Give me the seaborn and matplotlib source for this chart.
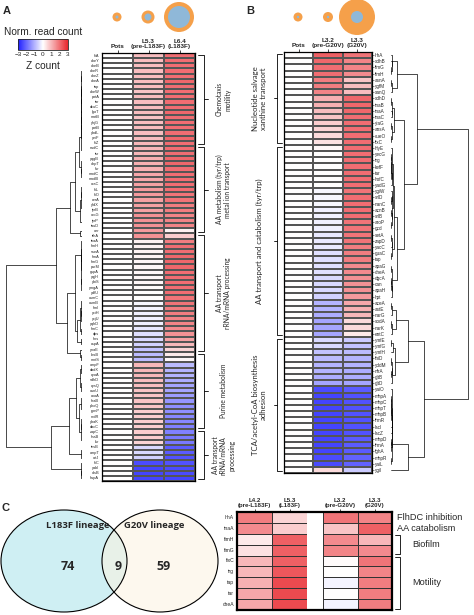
import matplotlib
matplotlib.use("Agg")
import matplotlib.pyplot as plt
import numpy as np
import pandas as pd
import seaborn as sns
from matplotlib.colors import LinearSegmentedColormap, Normalize
from matplotlib.cm import ScalarMappable
from matplotlib.patches import Circle, Ellipse

sns.set_theme(style="white")
plt.rcParams["font.family"] = ["Liberation Sans", "DejaVu Sans"]

# ---------------- data ----------------
genes_a = ["fliA", "cheY", "cheB", "cheR", "cheZ", "cheA", "tap", "cheW", "potA", "tar",
           "dcuC", "lgoT", "motB", "yhjG", "potB", "ybdL", "yeiF", "fliZ", "nudC", "tsr",
           "yqgB", "uhpT", "fur", "modC", "modB", "araC", "fliL", "fliO", "cvrA", "yfdX",
           "tyrB", "aroG", "tyrP", "tauD", "aer", "trhA", "tnaA", "fimH", "sseA", "fimA",
           "fimG", "purM", "gspA", "yqjH", "ybiS", "ymgA", "ydfU", "osmC", "osmB", "fimI",
           "yciH", "ycjU", "yqhD", "fimC", "dps", "hns", "cspA", "ynaE", "rbsB", "mntS",
           "ompF", "dadX", "cyoA", "sdhD", "cysQ", "asnU", "cnoA", "fhaB", "phoQ", "ppnP",
           "nrdR", "ybaK", "dacC", "zapC", "rhaB", "fsr", "tesB", "ompT", "artJ", "fliC",
           "yabI", "alsB", "hupA"]
pots_a = [0, 0, 0, 0, 0, 0, 0, 0, 0, 0, 0, 0, 0, 0, 0, 0, 0, 0, 0, 0, 0, 0, 0, 0, 0, 0, 0, 0,
          0, 0, 0, 0, 0, 0, 0, 0, 0, 0, 0, 0, 0, 0, 0, 0, 0, 0, 0, 0, 0, 0, 0, 0, 0, 0, 0, 0,
          0, 0, 0, 0, 0, 0, 0, 0, 0, 0, 0, 0, 0, 0, 0, 0, 0, 0, 0, 0, 0, 0, 0, 0, 0, 0, 0]
l53_a = [0.9, 0.9, 0.9, 0.9, 0.9, 0.9, 0.9, 0.8, 0.9, 0.9, 0.9, 0.9, 0.8, 0.9, 0.9, 0.9, 0.9,
         1.0, 1.0, 1.0, 1.1, 1.1, 1.1, 1.2, 1.2,
         1.3, 1.4, 1.4, 1.3, 1.3, 1.3, 1.5, 1.5, 1.5, 1.4, 1.5,
         0.2, 0.2, 0.15, 0.15, 0.1, 0.1, 0.1, 0.1, 0.1, 0.05, 0.0, 0.0, -0.1,
         -0.15, -0.2, -0.2, -0.2, -0.3, -0.4, -0.5, -0.6, -0.8, -0.9, -0.9,
         1.0, 1.0, 1.0, 0.9, 0.9, 0.8, 0.8, 0.8, 0.8, 0.7, 0.7, 0.7, 0.7, 0.7, 0.7, 0.6,
         -0.5, -0.5, -0.6,
         -2.4, -2.5, -2.5, -2.5]
l64_a = [2.0, 2.0, 2.0, 2.0, 2.0, 2.1, 2.0, 2.0, 2.0, 2.0, 2.0, 2.1, 2.0, 2.0, 2.0, 2.0, 2.1,
         2.0, 2.0, 2.0, 2.1, 2.1, 2.0, 2.0, 2.0,
         2.0, 2.0, 1.9, 1.9, 1.8, 1.8, 1.7, 1.7, 1.7, 0.2, 0.7,
         1.8, 2.0, 2.0, 2.1, 2.1, 2.1, 2.0, 2.0, 2.0, 2.0, 2.0, 1.9, 1.9,
         1.8, 1.8, 1.7, 1.7, 1.6, 1.5, 1.3, 1.0, 0.6, 0.3, 0.1,
         -0.9, -1.0, -1.0, -1.1, -1.2, -1.2, -1.3, -1.4, -1.5, -1.5, -1.6, -1.6, -1.7, -1.7,
         -1.8, -1.8,
         -2.2, -2.2, -2.3,
         -2.3, -2.4, -2.4, -2.5]
cols_a = ["Pots", "L5.3\n(pre-L183F)", "L6.4\n(L183F)"]
groups_a = ["Chemotaxis\nmotility", "AA metabolism (tyr/trp)\nmetal ion transport",
            "AA transport\nrRNA/mRNA processing", "Purine metabolism",
            "AA transport\nrRNA/mRNA\nprocessing"]
bounds_a = [0, 18, 35, 58, 73, 83]

genes_b = ["lrhA", "xdhB", "fimG", "fimH", "asnA", "ygfM", "xanQ", "xdhD", "tnaB", "tnaA",
           "tnaC", "yiaG", "ansA", "cueO", "fixC", "hlyE", "yecG", "trg", "kefF", "tar",
           "hofC", "yadG", "ygiW", "srlD", "nanC", "acnB", "srlB", "aroP", "gcd", "setA",
           "zapD", "yacC", "guaC", "tap", "apaG", "cheA", "dgcA", "can", "apaH", "hpt",
           "aceA", "astE", "narG", "sodA", "narK", "entC", "ymfE", "ymfG", "ymfH", "thiD",
           "yddM", "nfrA", "gltB", "gltD", "yaiO", "mhpA", "mhpC", "mhpT", "mhpB", "frmR",
           "lacI", "lacZ", "mhpD", "frmA", "fghA", "mhpR", "yaiL", "ygiI"]
pots_b = [0, 0, 0, 0, 0, 0, 0, 0, 0, 0, 0, 0, 0, 0, 0, 0, 0, 0, 0, 0, 0, 0, 0, 0, 0, 0, 0,
          0, 0, 0, 0, 0, 0, 0, 0, 0, 0, 0, 0, 0, 0, 0, 0, 0, 0, 0, 0, 0, 0, 0, 0, 0, 0, 0,
          0, 0, 0, 0, 0, 0, 0, 0, 0, 0, 0, 0, 0, 0]
l32_b = [2.2, 2.1, 2.0, 2.0, 1.8, 1.8, 1.7,
         1.1, 1.1, 0.9, 0.8, 0.7, 0.6, 0.5, 0.4,
         0.1, 0.0, 0.0, 0.0, 0.0, 0.0, 0.0, -0.1,
         -0.1, -0.1, -0.2, -0.2, -0.2, -0.2, -0.3,
         -0.3, -0.3, -0.4, -0.4, -0.4, -0.4, -0.5, -0.5, -0.5, -0.6,
         -1.0, -1.0, -1.1, -1.2, -1.2, -1.2,
         -0.5, -0.5, -0.8, -0.9, -1.0, -1.0, -1.1, -1.2,
         -2.4, -2.5, -2.5, -2.5, -2.5, -2.5, -2.5, -2.5, -2.5, -2.5, -2.5, -2.4, -2.4,
         0.5]
l33_b = [1.9, 1.7, 1.7, 1.6, 0.8, 0.9, 0.9,
         2.1, 2.1, 2.1, 2.0, 2.0, 2.0, 2.0, 2.0,
         2.0, 2.0, 2.0, 2.0, 2.0, 2.0, 2.0, 1.9,
         2.0, 2.0, 2.0, 2.0, 1.9, 1.9, 1.9,
         1.9, 1.8, 1.8, 1.8, 1.6, 1.6, 1.5, 1.5, 1.5, 1.4,
         1.2, 1.1, 1.0, 0.5, 0.5, 0.3,
         -0.7, -0.8, -0.9, -1.0, -1.0, -1.1, -1.1, -1.2,
         -2.2, -2.3, -2.3, -2.3, -2.3, -2.3, -2.3, -2.3, -2.2, -2.2, -2.2, -2.1, -2.1,
         -0.7]
cols_b = ["Pots", "L3.2\n(pre-G20V)", "L3.3\n(G20V)"]
groups_b = ["Nucleotide salvage\nxanthine transport", "AA transport and catabolism (tyr/trp)",
            "TCA/acetyl-CoA biosynthesis\nadhesion"]
bounds_b = [0, 15, 46, 68]

genes_c = ["lrhA", "tnaA", "fimH", "fimG", "fixC", "trg", "tap", "tar", "cheA"]
l42_c = [1.8, 1.6, 0.3, 0.4, 1.0, 1.0, 1.1, 1.2, 1.2]
l53_c = [0.6, 0.7, 2.2, 2.2, 2.2, 2.3, 2.5, 2.5, 2.5]
l32_c = [1.9, 0.8, 1.6, 1.7, 0.05, 0.0, -0.15, 0.0, -0.15]
l33_c = [1.7, 2.2, 1.0, 1.6, 1.9, 1.7, 1.8, 1.8, 1.8]
cols_c1 = ["L4.2\n(pre-L183F)", "L5.3\n(L183F)"]
cols_c2 = ["L3.2\n(pre-G20V)", "L3.3\n(G20V)"]
venn_names = ["L183F lineage", "G20V lineage"]
venn_counts = [74, 9, 59]

# relative population bubbles (outer, inner radius in px)
bubbles_a = [(4.5, 1.5), (6.5, 3.5), (15, 11)]
bubbles_b = [(4.5, 1.2), (5, 1.2), (18, 6)]

# ---------------- layout helpers ----------------
W, H = 474, 615
fig = plt.figure(figsize=(W / 100, H / 100), dpi=100)


def rect(x0, y0, x1, y1):
    return [x0 / W, 1 - y1 / H, (x1 - x0) / W, (y1 - y0) / H]


cmap = LinearSegmentedColormap.from_list("z", ["#1f1fff", "#ffffff", "#e8262c"])
ORANGE, BLUE = "#f5a04a", "#8fb8d8"


def adjacent_linkage(X):
    # order-preserving agglomerative clustering between neighbouring clusters
    cl = [dict(n=1, mean=X[i].astype(float), y=i + 0.5, h=0.0) for i in range(len(X))]
    links = []
    while len(cl) > 1:
        costs = [np.sqrt(2 * a["n"] * b["n"] / (a["n"] + b["n"])) * np.linalg.norm(a["mean"] - b["mean"])
                 for a, b in zip(cl[:-1], cl[1:])]
        k = int(np.argmin(costs))
        a, b = cl[k], cl[k + 1]
        h = max(costs[k], a["h"], b["h"]) + 0.03
        links.append((a["y"], a["h"], b["y"], b["h"], h))
        n = a["n"] + b["n"]
        cl[k:k + 2] = [dict(n=n, mean=(a["mean"] * a["n"] + b["mean"] * b["n"]) / n,
                            y=(a["y"] + b["y"]) / 2, h=h)]
    return links, cl[0]["h"]


def draw_dendro(ax, X, root_left):
    links, top = adjacent_linkage(X)
    for ya, ha, yb, hb, h in links:
        ax.plot([ha, h, h, hb], [ya, ya, yb, yb], color="black", lw=0.5)
    ax.set_ylim(len(X), 0)
    ax.set_xlim((top * 1.02, 0) if root_left else (0, top * 1.02))
    ax.axis("off")


def style_heatmap(ax, fs_rows, fs_cols):
    ax.xaxis.tick_top()
    ax.tick_params(axis="x", length=2, width=0.6, pad=1, labelsize=fs_cols, rotation=0)
    ax.tick_params(axis="y", length=1.5, width=0.4, pad=0.5, labelsize=fs_rows, rotation=0)
    for lab in ax.get_xticklabels():
        lab.set_fontweight("bold")
        lab.set_linespacing(1.0)
    ax.set_xlabel("")
    ax.set_ylabel("")
    for sp in ax.spines.values():
        sp.set_visible(True)
        sp.set_linewidth(0.9)
        sp.set_color("black")


# overlay axes in pixel coordinates
ov = fig.add_axes([0, 0, 1, 1])
ov.set_xlim(0, W)
ov.set_ylim(H, 0)
ov.axis("off")

# ---------------- panel A ----------------
df_a = pd.DataFrame({c: v for c, v in zip(cols_a, [pots_a, l53_a, l64_a])}, index=genes_a)
ax_a = fig.add_axes(rect(102, 53, 195, 481))
sns.heatmap(df_a, ax=ax_a, cmap=cmap, vmin=-3, vmax=3, cbar=False, linewidths=0.3,
            linecolor="#555555", xticklabels=True, yticklabels=True)
style_heatmap(ax_a, 2.8, 4.6)
ax_a.tick_params(axis="x", labelsize=4.6)

ax_da = fig.add_axes(rect(4, 53, 82, 481))
draw_dendro(ax_da, df_a.values, root_left=True)

ax_ga = fig.add_axes(rect(197, 53, 245, 481))
ax_ga.set_xlim(0, 1)
ax_ga.set_ylim(bounds_a[-1], 0)
ax_ga.axis("off")
for lab, t, b in zip(groups_a, bounds_a[:-1], bounds_a[1:]):
    ax_ga.plot([0.02, 0.14, 0.14, 0.02], [t + 0.3, t + 0.3, b - 0.3, b - 0.3], color="black", lw=0.6)
    ax_ga.plot([0.14, 0.22], [(t + b) / 2] * 2, color="black", lw=0.6)
    ax_ga.text(0.55, (t + b) / 2, lab, rotation=90, ha="center", va="center", fontsize=4.8,
               family=["Lato", "DejaVu Sans"], linespacing=1.2)

# colour scale
ax_cb = fig.add_axes(rect(18, 39, 68, 50))
cb = fig.colorbar(ScalarMappable(norm=Normalize(-3, 3), cmap=cmap), cax=ax_cb, orientation="horizontal")
cb.set_ticks([-3, -2, -1, 0, 1, 2, 3])
cb.ax.tick_params(labelsize=4.6, length=0, pad=1.5)
cb.outline.set_linewidth(0.6)
ov.text(43, 32, "Norm. read count", ha="center", va="center", fontsize=7.3)
ov.text(43, 66, "Z count", ha="center", va="center", fontsize=7.3)

ov.text(3, 11, "A", fontsize=8, fontweight="bold", va="center")
ov.text(246, 11, "B", fontsize=8, fontweight="bold", va="center")
ov.text(1, 508, "C", fontsize=8, fontweight="bold", va="center")

for x, (ro, ri) in zip([117, 148, 179], bubbles_a):
    ov.add_patch(Circle((x, 17), ro, color=ORANGE, lw=0))
    ov.add_patch(Circle((x, 17), ri, color=BLUE, lw=0))
for x, (ro, ri) in zip([298, 328, 357], bubbles_b):
    ov.add_patch(Circle((x, 17), ro, color=ORANGE, lw=0))
    ov.add_patch(Circle((x, 17), ri, color=BLUE, lw=0))

# ---------------- panel B ----------------
df_b = pd.DataFrame({c: v for c, v in zip(cols_b, [pots_b, l32_b, l33_b])}, index=genes_b)
ax_b = fig.add_axes(rect(284, 52, 372, 473))
sns.heatmap(df_b, ax=ax_b, cmap=cmap, vmin=-3, vmax=3, cbar=False, linewidths=0.3,
            linecolor="#555555", xticklabels=True, yticklabels=True)
style_heatmap(ax_b, 3.3, 4.6)
ax_b.yaxis.tick_right()
ax_b.tick_params(axis="y", labelsize=3.3, length=1.5, width=0.4, pad=0.5, rotation=0)

ax_db = fig.add_axes(rect(391, 52, 470, 473))
draw_dendro(ax_db, df_b.values, root_left=False)

ax_gb = fig.add_axes(rect(240, 52, 283, 473))
ax_gb.set_xlim(0, 1)
ax_gb.set_ylim(bounds_b[-1], 0)
ax_gb.axis("off")
for lab, t, b in zip(groups_b, bounds_b[:-1], bounds_b[1:]):
    ax_gb.plot([0.98, 0.86, 0.86, 0.98], [t + 0.3, t + 0.3, b - 0.3, b - 0.3], color="black", lw=0.6)
    ax_gb.plot([0.86, 0.78], [(t + b) / 2] * 2, color="black", lw=0.6)
    ax_gb.text(0.45, (t + b) / 2, lab, rotation=90, ha="center", va="center", fontsize=5.6,
               family=["Lato", "DejaVu Sans"], linespacing=1.2)

# ---------------- panel C ----------------
ov.add_patch(Ellipse((64, 561), 126, 102, facecolor="#cfeff3", edgecolor="none"))
ov.add_patch(Ellipse((160, 561), 116, 102, facecolor="#fdf3e0", edgecolor="none", alpha=0.55))
ov.add_patch(Ellipse((64, 561), 126, 102, facecolor="none", edgecolor="black", lw=0.8))
ov.add_patch(Ellipse((160, 561), 116, 102, facecolor="none", edgecolor="black", lw=0.8))
vfont = ["Open Sans", "DejaVu Sans"]
ov.text(78, 526, venn_names[0], ha="center", va="center", fontsize=6.8, fontweight="bold", family=vfont)
ov.text(154, 526, venn_names[1], ha="center", va="center", fontsize=6.8, fontweight="bold", family=vfont)
for x, n in zip([68, 118, 164], venn_counts):
    ov.text(x, 566, str(n), ha="center", va="center", fontsize=9, fontweight="bold", family=vfont)

df_c1 = pd.DataFrame({c: v for c, v in zip(cols_c1, [l42_c, l53_c])}, index=genes_c)
df_c2 = pd.DataFrame({c: v for c, v in zip(cols_c2, [l32_c, l33_c])}, index=genes_c)
ax_c1 = fig.add_axes(rect(237, 512, 307, 610))
ax_c2 = fig.add_axes(rect(323, 512, 392, 610))
sns.heatmap(df_c1, ax=ax_c1, cmap=cmap, vmin=-3, vmax=3, cbar=False, linewidths=0.5,
            linecolor="#333333", xticklabels=True, yticklabels=True)
sns.heatmap(df_c2, ax=ax_c2, cmap=cmap, vmin=-3, vmax=3, cbar=False, linewidths=0.5,
            linecolor="#333333", xticklabels=True, yticklabels=False)
style_heatmap(ax_c1, 3.6, 4.4)
style_heatmap(ax_c2, 3.6, 4.4)
for ax in (ax_c1, ax_c2):
    for sp in ax.spines.values():
        sp.set_visible(False)
ax_cf = fig.add_axes(rect(237, 512, 392, 610))
ax_cf.patch.set_alpha(0)
ax_cf.set_xticks([])
ax_cf.set_yticks([])
for sp in ax_cf.spines.values():
    sp.set_linewidth(1.6)
    sp.set_color("black")

ax_gc = fig.add_axes(rect(393, 512, 474, 610))
ax_gc.set_xlim(0, 1)
ax_gc.set_ylim(len(genes_c), 0)
ax_gc.axis("off")
ax_gc.text(0.05, 0.5, "FlhDC inhibition", va="center", fontsize=6.6, clip_on=False)
ax_gc.text(0.05, 1.5, "AA catabolism", va="center", fontsize=6.6)
for lab, t, b in [("Biofilm", 2, 4), ("Motility", 4, 9)]:
    ax_gc.plot([0.02, 0.09, 0.09, 0.02], [t + 0.1, t + 0.1, b - 0.1, b - 0.1], color="black", lw=0.6)
    ax_gc.text(0.24, (t + b) / 2, lab, va="center", fontsize=6.6)

fig.savefig("out.png", dpi=100)
